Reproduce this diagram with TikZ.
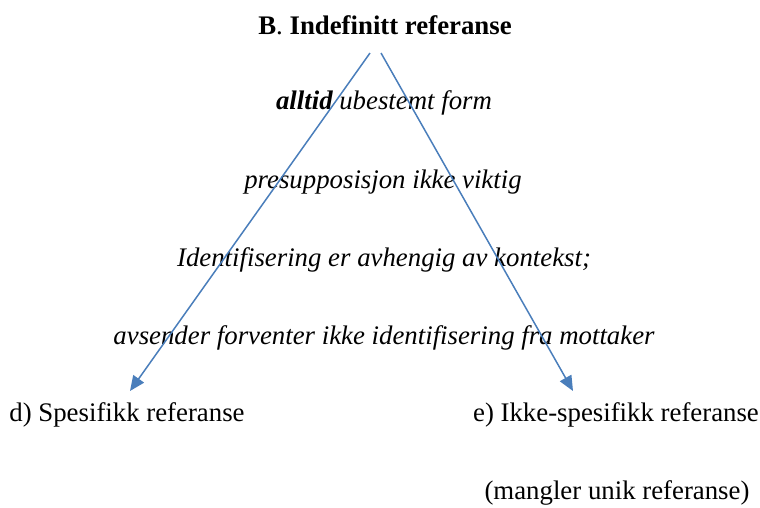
\documentclass[tikz,border=0pt]{standalone}
\usepackage{fontspec}
\setmainfont{Liberation Serif}
\usepackage{tikz}
\usetikzlibrary{arrows.meta}

\definecolor{arrowblue}{RGB}{74,126,187}

\begin{document}
\begin{tikzpicture}[x=1pt,y=-1pt,font=\fontsize{26.8}{31}\selectfont,
  txt/.style={inner sep=0pt,anchor=center},
  note/.style={txt,font=\fontsize{26.8}{31}\selectfont\itshape},
  rel/.style={draw=arrowblue,line width=1.5pt,-{Triangle[length=15pt,width=13pt]}}]
\useasboundingbox (0,0) rectangle (760,507);

\node [txt] (v1) at (385,25) {\textbf{B}.\ \textbf{Indefinitt referanse}};
\node [note] (v2) at (384,103) {\textbf{alltid} ubestemt form};
\node [note] (v3) at (383,182) {presupposisjon ikke viktig};
\node [note] (v4) at (384,260) {Identifisering er avhengig av kontekst;};
\node [note] (v5) at (384,338) {avsender forventer ikke identifisering fra mottaker};
\node [txt] (v6) at (127,415) {d) Spesifikk referanse};
\node [txt] (v7) at (616,415) {e) Ikke-spesifikk referanse};
\node [txt] (v8) at (617,493) {(mangler unik referanse)};

\coordinate (s1) at (370,53);
\coordinate (s2) at (381,53);
\coordinate (t1) at (130,391);
\coordinate (t2) at (573,391);

\draw [rel] (s1) -- (t1);
\draw [rel] (s2) -- (t2);
\end{tikzpicture}
\end{document}
